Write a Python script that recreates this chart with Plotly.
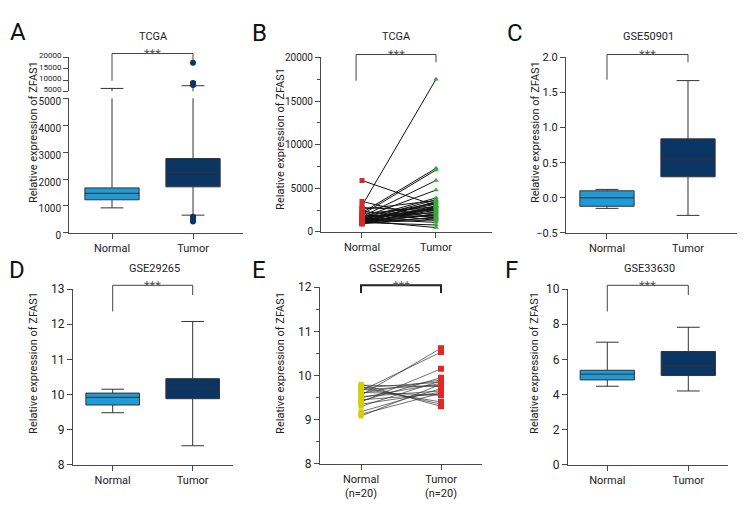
import plotly.graph_objects as go

W, H = 756, 528
FONT = "Roboto, Liberation Sans, Arial, sans-serif"
AX = "#4a4a4a"
BOXLINE = "#333333"
NORMAL_FILL = "#1f9bd7"
TUMOR_FILL = "#0b3562"

groups = ["Normal", "Tumor"]
groups_e = ["Normal<br>(n=20)", "Tumor<br>(n=20)"]

# ---------- Panel A: TCGA box plot (broken axis) ----------
a_q1 = [1230, 1710]
a_median = [1470, 2240]
a_q3 = [1670, 2760]
a_lower = [930, 660]
a_upper = [6300, 7500]
a_outliers = [17600, 8700, 8500, 8100, 7800, 600, 420, 560, 570, 520]

# ---------- Panel B: TCGA paired ----------
b_normal = [5900, 3500, 3000, 2800, 2600, 2400, 2200, 2100, 2000, 1900,
            1800, 1750, 1700, 1650, 1600, 1550, 1500, 1450, 1400, 1380,
            1350, 1300, 1280, 1250, 1200, 1180, 1150, 1120, 1100, 1080,
            1050, 1020, 1000, 980, 950, 920]
b_tumor = [3000, 1500, 17500, 2400, 3600, 1300, 7300, 2900, 7100, 1800,
           3300, 5900, 2200, 4800, 2700, 3900, 1100, 3200, 2600, 3700,
           1900, 2800, 500, 3400, 2300, 1600, 3000, 2500, 2000, 800,
           3500, 1400, 2700, 2100, 1700, 2900]

# ---------- Panel C: GSE50901 ----------
c_q1 = [-0.12, 0.30]
c_median = [0.0, 0.54]
c_q3 = [0.10, 0.84]
c_lower = [-0.15, -0.25]
c_upper = [0.12, 1.67]

# ---------- Panel D: GSE29265 ----------
d_q1 = [9.70, 9.88]
d_median = [9.92, 10.18]
d_q3 = [10.04, 10.45]
d_lower = [9.48, 8.54]
d_upper = [10.15, 12.08]

# ---------- Panel E: GSE29265 paired ----------
e_normal = [9.08, 9.12, 9.18, 9.30, 9.35, 9.40, 9.42, 9.45, 9.50, 9.52,
            9.55, 9.60, 9.62, 9.65, 9.68, 9.70, 9.72, 9.75, 9.78, 9.80]
e_tumor = [9.80, 9.60, 9.70, 9.88, 9.62, 10.15, 9.95, 9.58, 9.82, 9.65,
           10.62, 9.90, 9.55, 10.53, 9.78, 9.40, 9.85, 9.35, 9.75, 9.30]

# ---------- Panel F: GSE33630 ----------
f_q1 = [4.83, 5.08]
f_median = [5.16, 5.66]
f_q3 = [5.38, 6.45]
f_lower = [4.47, 4.20]
f_upper = [6.98, 7.83]


def px(x):
    return x / W


def py(y):
    return 1 - y / H


def xaxis(l, r, rng, anchor, labels, visible=True):
    return dict(domain=[px(l), px(r)], range=rng, anchor=anchor,
                tickvals=[0, 1], ticktext=labels, showline=True,
                linecolor=AX, linewidth=1, ticks="outside", ticklen=5,
                tickcolor=AX, showgrid=False, zeroline=False,
                tickfont=dict(family=FONT, size=11, color="#222"),
                visible=visible, fixedrange=True)


def yaxis(top, bottom, rng, anchor, dtick, fmt, size=10, minor=None, tick0=None, shift=0):
    d = dict(domain=[py(bottom), py(top)], range=rng, anchor=anchor,
             dtick=dtick, tickformat=fmt, showline=True, linecolor=AX,
             linewidth=1, ticks="outside", ticklen=5, tickcolor=AX,
             showgrid=False, zeroline=False,
             tickfont=dict(family=FONT, size=size, color="#222"),
             fixedrange=True)
    if shift:
        d["ticklabelshift"] = shift
    if tick0 is not None:
        d["tick0"] = tick0
    if minor:
        d["minor"] = dict(dtick=minor, ticks="outside", ticklen=3,
                          tickcolor=AX, showgrid=False)
    return d


fig = go.Figure()


def add_boxes(q1, med, q3, lo, hi, xa, ya):
    for i, fill in enumerate([NORMAL_FILL, TUMOR_FILL]):
        fig.add_trace(go.Box(
            x=[i], q1=[q1[i]], median=[med[i]], q3=[q3[i]],
            lowerfence=[lo[i]], upperfence=[hi[i]],
            width=0.67, whiskerwidth=0.42, fillcolor=fill,
            line=dict(color=BOXLINE, width=1), boxpoints=False,
            xaxis=xa, yaxis=ya, showlegend=False, hoverinfo="skip"))


# Panel A (lower and upper segments)
add_boxes(a_q1, a_median, a_q3, a_lower, a_upper, "x", "y")
add_boxes(a_q1, a_median, a_q3, a_lower, a_upper, "x7", "y7")
for xa, ya in [("x", "y"), ("x7", "y7")]:
    fig.add_trace(go.Scatter(
        x=[1] * len(a_outliers), y=a_outliers, mode="markers",
        marker=dict(color=TUMOR_FILL, size=6),
        xaxis=xa, yaxis=ya, showlegend=False, hoverinfo="skip"))

# Panel B paired lines
bx, by = [], []
for n, t in zip(b_normal, b_tumor):
    bx += [0, 1, None]
    by += [n, t, None]
fig.add_trace(go.Scatter(x=bx, y=by, mode="lines",
                         line=dict(color="#111", width=1),
                         xaxis="x2", yaxis="y2", showlegend=False, hoverinfo="skip"))
fig.add_trace(go.Scatter(x=[0] * len(b_normal), y=b_normal, mode="markers",
                         marker=dict(symbol="square", color="#d42a2a", size=5),
                         xaxis="x2", yaxis="y2", showlegend=False, hoverinfo="skip"))
fig.add_trace(go.Scatter(x=[1] * len(b_tumor), y=b_tumor, mode="markers",
                         marker=dict(symbol="triangle-up", color="#3aa83a", size=5),
                         xaxis="x2", yaxis="y2", showlegend=False, hoverinfo="skip"))

# Panel C
add_boxes(c_q1, c_median, c_q3, c_lower, c_upper, "x3", "y3")
# Panel D
add_boxes(d_q1, d_median, d_q3, d_lower, d_upper, "x4", "y4")

# Panel E paired lines
ex, ey = [], []
for n, t in zip(e_normal, e_tumor):
    ex += [0, 1, None]
    ey += [n, t, None]
fig.add_trace(go.Scatter(x=ex, y=ey, mode="lines",
                         line=dict(color="#333", width=0.7),
                         xaxis="x5", yaxis="y5", showlegend=False, hoverinfo="skip"))
fig.add_trace(go.Scatter(x=[0] * len(e_normal), y=e_normal, mode="markers",
                         marker=dict(symbol="square", color="#d4d000", size=5),
                         xaxis="x5", yaxis="y5", showlegend=False, hoverinfo="skip"))
fig.add_trace(go.Scatter(x=[1] * len(e_tumor), y=e_tumor, mode="markers",
                         marker=dict(symbol="square", color="#e02828", size=6),
                         xaxis="x5", yaxis="y5", showlegend=False, hoverinfo="skip"))

# Panel F
add_boxes(f_q1, f_median, f_q3, f_lower, f_upper, "x6", "y6")

layout = dict(
    width=W, height=H, margin=dict(l=0, r=0, t=0, b=0),
    paper_bgcolor="white", plot_bgcolor="white", showlegend=False,
    boxmode="overlay",
    xaxis=xaxis(69, 243, [-0.531, 1.617], "y", groups),
    yaxis=yaxis(94, 233, [0, 5000], "x", 1000, "d", size=10, shift=3),
    xaxis7=xaxis(69, 243, [-0.531, 1.617], "y7", groups, visible=False),
    yaxis7=yaxis(52, 87, [5000, 20000], "x7", 5000, "d", size=8, shift=-2),
    xaxis2=xaxis(321, 492, [-0.554, 1.757], "y2", groups),
    yaxis2=yaxis(52, 232, [0, 20000], "x2", 5000, "d", size=10, minor=2500),
    xaxis3=xaxis(566, 737, [-0.506, 1.605], "y3", groups),
    yaxis3=yaxis(52, 233, [-0.5, 2.0], "x3", 0.5, ".1f", size=11, tick0=0),
    xaxis4=xaxis(73, 233, [-0.496, 1.504], "y4", groups),
    yaxis4=yaxis(291, 472, [8, 13], "x4", 1, "d", size=12),
    xaxis5=xaxis(320, 482, [-0.5125, 1.5125], "y5", groups_e),
    yaxis5=yaxis(289, 471, [8, 12], "x5", 1, "d", size=12, minor=0.5),
    xaxis6=xaxis(568, 728, [-0.485, 1.49], "y6", groups),
    yaxis6=yaxis(291, 472, [0, 10], "x6", 2, "d", size=12),
)
fig.update_layout(**layout)

annotations = []
shapes = []


def text(x, y, s, size, color="#222", angle=0, xanchor="center", yanchor="middle"):
    annotations.append(dict(x=px(x), y=py(y), xref="paper", yref="paper",
                            text=s, showarrow=False, textangle=angle,
                            xanchor=xanchor, yanchor=yanchor,
                            font=dict(family=FONT, size=size, color=color)))


# panel letters
for lab, x, y in [("A", 18, 26), ("B", 259, 27), ("C", 515, 27),
                  ("D", 17, 271), ("E", 259, 271), ("F", 511, 271)]:
    text(x, y, lab, 24, "#111")

# titles
for s, x, y in [("TCGA", 153, 30), ("TCGA", 396, 30), ("GSE50901", 648, 30),
                ("GSE29265", 154, 270), ("GSE29265", 395, 270), ("GSE33630", 649, 270)]:
    text(x, y, s, 11)

# y titles
for x, y in [(33, 129), (281, 136), (535, 129),
             (34, 367), (281, 367), (535, 367)]:
    text(x, y, "Relative expression of ZFAS1", 11, angle=-90)

# significance brackets: (xref, xleft, top, left_leg_bottom, right_leg_bottom, width)
brackets = [("x", 0, 48, 76, 56, 1), ("x2", -0.08, 49, 76, 57, 1),
            ("x3", 0, 49, 75, 57, 1), ("x4", 0, 287, 314, 297, 1),
            ("x5", 0, 287, 295, 295, 2), ("x6", 0, 287, 314, 297, 1)]
for xr, xl, top, ll, rl, w in brackets:
    shapes.append(dict(type="path", xref=xr, yref="paper",
                       path=f"M {xl},{py(ll)} L {xl},{py(top)} L 1,{py(top)} L 1,{py(rl)}",
                       line=dict(color="#222" if w > 1 else "#444", width=w)))
    annotations.append(dict(x=(xl + 1) / 2, y=py(top), xref=xr, yref="paper",
                            text="***", showarrow=False, xanchor="center",
                            yanchor="middle",
                            font=dict(family=FONT, size=13, color="#555")))

fig.update_layout(annotations=annotations, shapes=shapes)
fig.write_html("out.html", config={"displayModeBar": False},
               post_script="document.body.style.margin='0px';document.body.style.padding='0px';")
